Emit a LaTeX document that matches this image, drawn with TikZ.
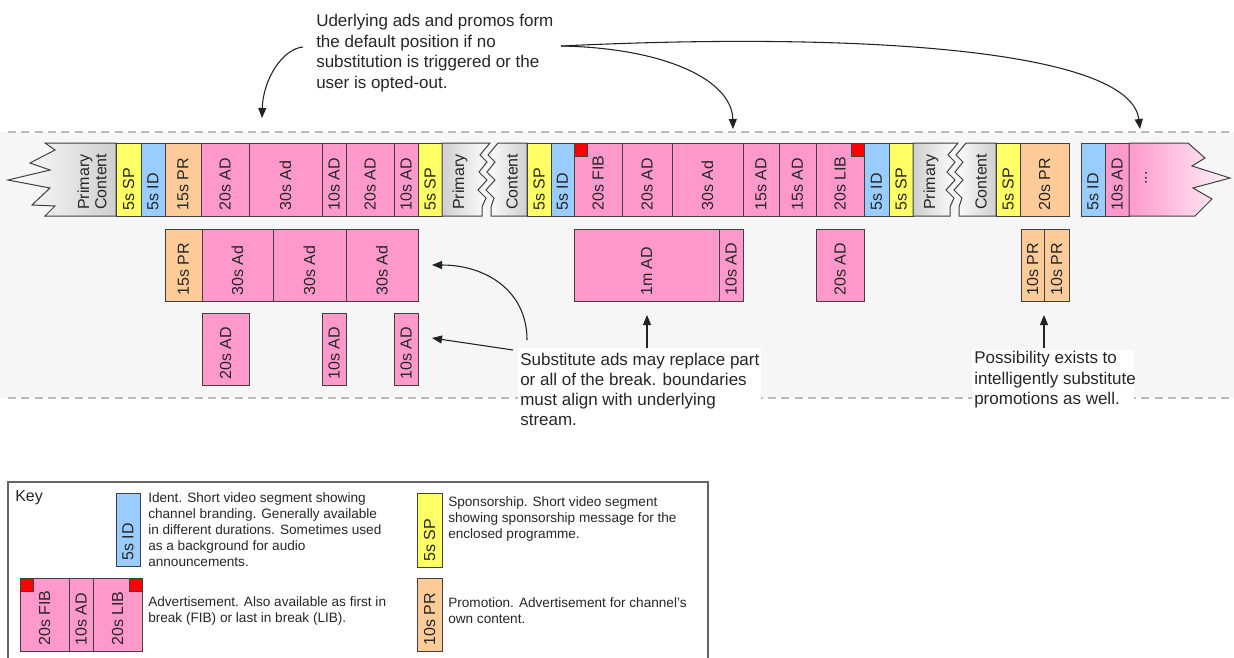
\documentclass[tikz,border=0pt]{standalone}
\usepackage{fontspec}
\setmainfont{Liberation Sans}
\usetikzlibrary{arrows.meta}
\definecolor{pinkad}{HTML}{FF99CC}
\definecolor{yelsp}{HTML}{FFFF66}
\definecolor{blueid}{HTML}{99CCFF}
\definecolor{orgpr}{HTML}{FFCC99}
\definecolor{edge}{HTML}{404040}
\definecolor{bandc}{HTML}{F6F6F6}
\definecolor{dashc}{HTML}{BBBBBB}
\definecolor{txt}{HTML}{262626}
\definecolor{arrc}{HTML}{222222}
\definecolor{grayend}{HTML}{CFCFCF}
\tikzset{
  segbox/.style={draw=edge, line width=0.75pt},
  lbl/.style={rotate=90, anchor=west, inner sep=0pt, text=txt, font=\fontsize{12}{13}\selectfont},
  note/.style={anchor=north west, inner sep=0pt, align=left, text=txt, font=\fontsize{12.75}{15.4}\selectfont},
  keytxt/.style={anchor=north west, inner sep=0pt, align=left, text=txt, font=\fontsize{10.2}{12}\selectfont},
  arr/.style={draw=arrc, line width=0.8pt, -{Triangle[length=7.5pt,width=6pt]}},
  redsq/.style={fill=red, draw=edge, line width=0.6pt},
  dashln/.style={draw=dashc, line width=1.1pt, dash pattern=on 6pt off 4pt},
  whitebg/.style={fill=white, draw=none},
}
% #1 name, #2 x1, #3 x2, #4 y1, #5 y2, #6 fill, #7 label
\newcommand\seg[7]{%
  \path[segbox,fill=#6] (#2,#4) rectangle (#3,#5);
  \node[lbl] (#1) at ({(#2+#3)/2},{#5-5}) {#7};}
\newcommand\tseg[5]{\seg{#1}{#2}{#3}{143}{216}{#4}{#5}}
\begin{document}
\begin{tikzpicture}[x=0.75pt,y=-0.75pt]
\useasboundingbox (0,0) rectangle (1234,657);
% band
\fill[bandc] (0,132) rectangle (1234,398);
\draw[dashln] (8,132) -- (1234,132);
\draw[dashln] (8,398) -- (1234,398);

% ---- top strip ----
\path[segbox, left color=white, right color=grayend]
  (116,143) -- (45,143) -- (55,150) -- (30,163) -- (50,170) -- (8,180) -- (50,188)
  -- (32,205) -- (55,206) -- (45,216) -- (116,216) -- cycle;
\node[lbl, align=left] (pc1) at (92,210) {Primary\\Content};
\tseg{sp1}{116}{141}{yelsp}{5s SP}
\tseg{id1}{141}{165}{blueid}{5s ID}
\tseg{pr1}{165}{201}{orgpr}{15s PR}
\tseg{ad1}{201}{249}{pinkad}{20s AD}
\tseg{ad2}{249}{322}{pinkad}{30s Ad}
\tseg{ad3}{322}{346}{pinkad}{10s AD}
\tseg{ad4}{346}{394}{pinkad}{20s AD}
\tseg{ad5}{394}{418}{pinkad}{10s AD}
\tseg{sp2}{418}{442}{yelsp}{5s SP}
\path[segbox, left color=grayend, right color=white]
  (442,143) -- (490,143) -- (480,155) -- (487,162) -- (479,172) -- (487,180)
  -- (478,190) -- (486,198) -- (482,207) -- (482,216) -- (442,216) -- cycle;
\node[lbl] (pr2t) at (460,210) {Primary};
\path[segbox, left color=white, right color=grayend]
  (527,143) -- (498,143) -- (488,155) -- (495,162) -- (487,172) -- (495,180)
  -- (486,190) -- (494,198) -- (491,207) -- (491,216) -- (527,216) -- cycle;
\node[lbl] (ct2t) at (512,210) {Content};
\tseg{sp3}{527}{551}{yelsp}{5s SP}
\tseg{id2}{551}{574}{blueid}{5s ID}
\tseg{fib}{574}{622}{pinkad}{20s FIB}
\tseg{ad6}{622}{672}{pinkad}{20s AD}
\tseg{ad7}{672}{743}{pinkad}{30s Ad}
\tseg{ad8}{743}{779}{pinkad}{15s AD}
\tseg{ad9}{779}{816}{pinkad}{15s AD}
\tseg{lib}{816}{864}{pinkad}{20s LIB}
\tseg{id3}{864}{889}{blueid}{5s ID}
\tseg{sp4}{889}{913}{yelsp}{5s SP}
\path[segbox, redsq] (574,143) rectangle (587,156);
\path[segbox, redsq] (851,143) rectangle (864,156);
\path[segbox, left color=grayend, right color=white]
  (913,143) -- (958,143) -- (948,155) -- (955,162) -- (947,172) -- (955,180)
  -- (946,190) -- (954,198) -- (950,207) -- (950,216) -- (913,216) -- cycle;
\node[lbl] (pr3t) at (931,210) {Primary};
\path[segbox, left color=white, right color=grayend]
  (996,143) -- (966,143) -- (956,155) -- (963,162) -- (955,172) -- (963,180)
  -- (954,190) -- (962,198) -- (959,207) -- (959,216) -- (996,216) -- cycle;
\node[lbl] (ct3t) at (981,210) {Content};
\tseg{sp5}{996}{1020}{yelsp}{5s SP}
\tseg{pr2}{1020}{1069}{orgpr}{20s PR}
\tseg{id4}{1081}{1105}{blueid}{5s ID}
\tseg{ad10}{1105}{1129}{pinkad}{10s AD}
\path[segbox, left color=pinkad, right color=pinkad!12]
  (1129,143) -- (1188,143) -- (1205,158) -- (1192,166) -- (1230,178) -- (1193,188)
  -- (1212,199) -- (1195,216) -- (1129,216) -- cycle;
\node[rotate=90, inner sep=0pt, text=txt, font=\fontsize{12}{13}\selectfont] (dots) at (1146,178) {...};

% ---- substitutes ----
\seg{spr1}{165}{202}{229}{301}{orgpr}{15s PR}
\seg{s30a}{202}{273}{229}{301}{pinkad}{30s Ad}
\seg{s30b}{273}{346}{229}{301}{pinkad}{30s Ad}
\seg{s30c}{346}{418}{229}{301}{pinkad}{30s Ad}
\seg{s20a}{202}{249}{313}{385}{pinkad}{20s AD}
\seg{s10a}{322}{346}{313}{385}{pinkad}{10s AD}
\seg{s10b}{394}{418}{313}{385}{pinkad}{10s AD}
\seg{s1m}{574}{719}{229}{301}{pinkad}{1m AD}
\seg{s10c}{719}{743}{229}{301}{pinkad}{10s AD}
\seg{s20b}{816}{864}{229}{301}{pinkad}{20s AD}
\seg{spr2}{1021}{1044}{229}{301}{orgpr}{10s PR}
\seg{spr3}{1044}{1069}{229}{301}{orgpr}{10s PR}

% ---- notes ----
\node[note] (topnote) at (316,14) {Uderlying ads and promos form\\the default position if no\\substitution is triggered or the\\user is opted-out.};
\path[whitebg] (518,348) rectangle (761,404);
\node[note, font=\fontsize{12.75}{15}\selectfont] (subnote) at (520,353) {Substitute ads may replace part\\or all of the break. boundaries\\must align with underlying\\stream.};
\path[whitebg] (972,350) rectangle (1134,404);
\node[note] (posnote) at (974,351) {Possibility exists to\\intelligently substitute\\promotions as well.};

\coordinate (a1s) at (303,47);
\coordinate (a1e) at (262,118);
\coordinate (a2s) at (561,46);
\coordinate (a2e) at (733,129);
\coordinate (a3e) at (1140,129);
\draw[arr] (a1s) .. controls (282,49) and (263,80) .. (a1e);
\draw[arr] (a2s) .. controls (665,48) and (732,80) .. (a2e);
\draw[arr] (a2s) .. controls (850,32) and (1130,48) .. (a3e);

\coordinate (m1s) at (527,340);
\coordinate (m1e) at (432,265);
\coordinate (m2s) at (513,350);
\coordinate (m2e) at (432,338);
\coordinate (m3s) at (647,348);
\coordinate (m3e) at (647,315);
\coordinate (m4s) at (1044,348);
\coordinate (m4e) at (1044,315);
\draw[arr] (m1s) .. controls (527,290) and (485,265) .. (m1e);
\draw[arr] (m2s) -- (m2e);
\draw[arr] (m3s) -- (m3e);
\draw[arr] (m4s) -- (m4e);

% ---- key ----
\draw[draw=edge!80, line width=0.9pt] (8,660) -- (8,482) -- (708,482) -- (708,660);
\node[anchor=north west, inner sep=0pt, text=txt, font=\fontsize{12}{14}\selectfont] (keyttl) at (15,490) {Key};
\seg{kid}{116}{140}{493}{566}{blueid}{5s ID}
\node[keytxt] (kidt) at (148,492) {Ident. Short video segment showing\\channel branding. Generally available\\in different durations. Sometimes used\\as a background for audio\\announcements.};
\seg{kfib}{20}{69}{578}{651}{pinkad}{20s FIB}
\seg{kad}{69}{93}{578}{651}{pinkad}{10s AD}
\seg{klib}{93}{142}{578}{651}{pinkad}{20s LIB}
\path[segbox, redsq] (20,578) rectangle (33,591);
\path[segbox, redsq] (129,578) rectangle (142,591);
\node[keytxt] (kadt) at (148,596) {Advertisement. Also available as first in\\break (FIB) or last in break (LIB).};
\seg{ksp}{417}{442}{493}{567}{yelsp}{5s SP}
\node[keytxt] (kspt) at (448,496) {Sponsorship. Short video segment\\showing sponsorship message for the\\enclosed programme.};
\seg{kpr}{417}{442}{578}{651}{orgpr}{10s PR}
\node[keytxt] (kprt) at (448,597) {Promotion. Advertisement for channel's\\own content.};
\end{tikzpicture}
\end{document}
